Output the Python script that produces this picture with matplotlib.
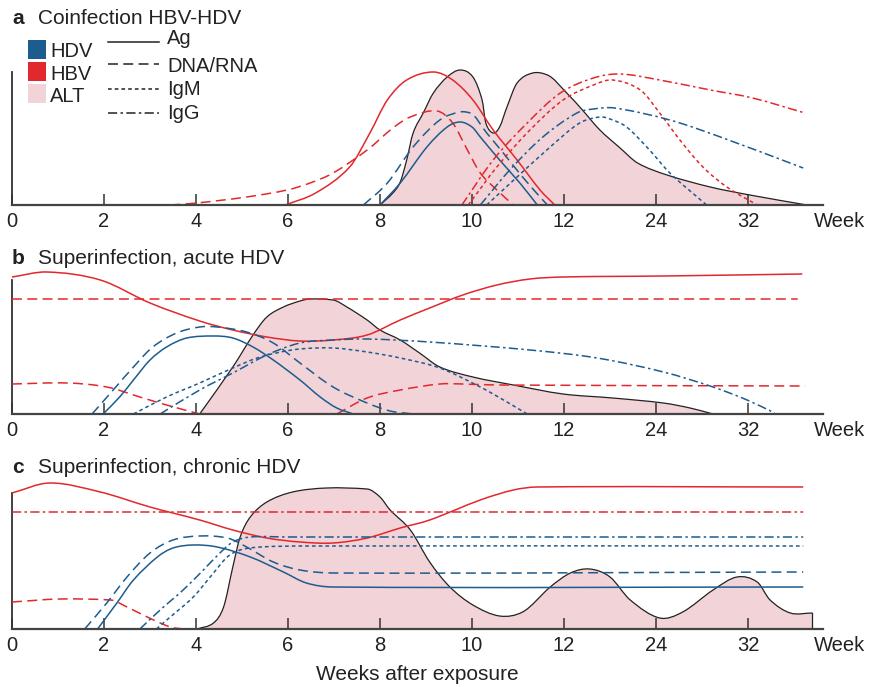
import numpy as np
import matplotlib
matplotlib.use("Agg")
import matplotlib.pyplot as plt
from matplotlib.path import Path
from matplotlib.patches import PathPatch, Rectangle
from matplotlib.lines import Line2D

plt.rcParams['font.family'] = ['Liberation Sans', 'DejaVu Sans']

# ---------------- data (x: tick-slot units, y: relative level) ----------------
tick_labels = ['0', '2', '4', '6', '8', '10', '12', '24', '32']
panel_titles = ['Coinfection HBV-HDV', 'Superinfection, acute HDV', 'Superinfection, chronic HDV']
panel_letters = ['a', 'b', 'c']

# Panel a
a_alt_x = [4.0, 4.14, 4.22, 4.29, 4.36, 4.47, 4.58, 4.73, 4.87, 5.01, 5.11, 5.15, 5.23, 5.30, 5.38, 5.49, 5.66, 5.82, 6.03, 6.2, 6.39, 6.61, 6.8, 7.12, 7.59, 8.02, 8.64]
a_alt_y = [0, 12, 23, 45, 72, 92, 112, 128, 135, 128, 105, 82, 72, 78, 98, 122, 132, 130, 112, 95, 75, 57, 42, 30, 18, 10, 0]
a_hbv_ag_x = [2.97, 3.3, 3.67, 3.89, 4.08, 4.29, 4.58, 4.79, 5.01, 5.23, 5.49, 5.74, 5.9]
a_hbv_ag_y = [0, 12, 38, 72, 105, 125, 133, 125, 105, 75, 45, 15, 0]
a_hbv_dna_x = [1.72, 2.01, 2.55, 2.99, 3.24, 3.49, 3.86, 4.14, 4.33, 4.62, 4.79, 4.95, 5.09, 5.27, 5.45]
a_hbv_dna_y = [0, 2, 8, 15, 22, 32, 55, 77, 88, 94, 82, 55, 32, 15, 0]
a_hdv_ag_x = [4.0, 4.22, 4.51, 4.73, 4.87, 5.0, 5.09, 5.3, 5.52, 5.71]
a_hdv_ag_y = [0, 22, 58, 78, 83, 78, 68, 45, 22, 0]
a_hdv_rna_x = [3.82, 4.08, 4.36, 4.65, 4.87, 4.98, 5.16, 5.34, 5.55, 5.74, 5.82]
a_hdv_rna_y = [0, 22, 58, 85, 93, 92, 72, 52, 28, 8, 0]
a_hbv_igg_x = [4.89, 5.23, 5.6, 5.96, 6.32, 6.61, 7.04, 7.59, 8.05, 8.62]
a_hbv_igg_y = [0, 45, 82, 112, 127, 131, 125, 115, 107, 92]
a_hbv_igm_x = [4.96, 5.27, 5.63, 5.99, 6.32, 6.53, 6.83, 7.04, 7.26, 7.51, 7.77, 8.1]
a_hbv_igm_y = [0, 38, 75, 105, 120, 125, 115, 92, 65, 38, 18, 0]
a_hdv_igg_x = [5.09, 5.41, 5.77, 6.14, 6.32, 6.55, 7.15, 7.7, 8.6]
a_hdv_igg_y = [0, 35, 68, 92, 96, 97, 85, 68, 37]
a_hdv_igm_x = [5.16, 5.49, 5.85, 6.17, 6.39, 6.5, 6.68, 6.93, 7.15, 7.55]
a_hdv_igm_y = [0, 28, 58, 82, 88, 86, 78, 55, 32, 0]

# Panel b
b_alt_x = [2.04, 2.4, 2.62, 2.77, 2.95, 3.13, 3.24, 3.49, 3.64, 3.86, 4.0, 4.22, 4.43, 4.65, 5.01, 5.45, 5.99, 6.53, 7.08, 7.37, 7.62]
b_alt_y = [0, 47, 79, 97, 107, 113, 115, 114, 107, 94, 84, 74, 61, 47, 37, 29, 20, 16, 11, 6, 0]
b_hbv_ag_x = [0, 0.38, 0.96, 1.5, 2.04, 2.4, 2.77, 3.13, 3.49, 3.86, 4.22, 4.54, 4.9, 5.27, 5.63, 5.99, 7.08, 8.59]
b_hbv_ag_y = [137, 142, 134, 111, 93, 84, 77, 73, 74, 79, 94, 106, 119, 129, 135, 137, 138, 140]
b_hbv_dna_x = [0, 8.54]
b_hbv_dna_y = [115, 115]
b_hbv_dec_x = [0, 0.6, 1.03, 1.39, 1.68, 2.04]
b_hbv_dec_y = [30, 31, 27, 17, 9, 0]
b_hbv_rise_x = [3.53, 3.86, 4.22, 4.65, 4.9, 5.27, 8.62]
b_hbv_rise_y = [0, 16, 24, 30, 30, 29, 28]
b_hdv_ag_x = [0.99, 1.17, 1.32, 1.5, 1.68, 1.9, 2.19, 2.4, 2.62, 2.84, 3.13, 3.35, 3.53, 3.71]
b_hdv_ag_y = [0, 17, 34, 54, 67, 76, 78, 76, 67, 54, 34, 17, 6, 0]
b_hdv_rna_x = [0.87, 1.1, 1.32, 1.53, 1.79, 2.04, 2.23, 2.55, 2.84, 3.13, 3.49, 3.86, 4.11, 4.36]
b_hdv_rna_y = [0, 24, 47, 67, 81, 87, 87, 82, 71, 51, 27, 11, 3, 0]
b_hdv_igm_x = [1.32, 1.68, 2.04, 2.4, 2.7, 3.13, 3.49, 3.86, 4.22, 4.65, 5.09, 5.38, 5.6]
b_hdv_igm_y = [0, 17, 31, 46, 57, 65, 66, 62, 56, 46, 27, 12, 0]
b_hdv_igg_x = [1.61, 2.04, 2.4, 2.77, 3.13, 3.49, 3.86, 4.54, 5.63, 6.36, 7.08, 7.62, 7.99, 8.29]
b_hdv_igg_y = [0, 24, 41, 59, 71, 74, 75, 72, 64, 56, 42, 27, 14, 1]

# Panel c
c_alt_x = [2.01, 2.19, 2.3, 2.4, 2.48, 2.59, 2.77, 3.05, 3.42, 3.86, 4.0, 4.11, 4.33, 4.54, 4.76, 5.01, 5.3, 5.55, 5.85, 6.07, 6.28, 6.5, 6.72, 7.04, 7.29, 7.62, 7.88, 8.1, 8.24, 8.46, 8.7]
c_alt_y = [0, 6, 22, 62, 92, 112, 127, 137, 141, 140, 132, 119, 99, 67, 42, 24, 13, 17, 42, 56, 60, 52, 29, 11, 17, 39, 52, 47, 29, 16, 16]
c_hbv_ag_x = [0, 0.41, 0.96, 1.5, 2.04, 2.4, 2.77, 3.13, 3.49, 3.86, 4.22, 4.54, 5.09, 5.45, 5.71, 8.6]
c_hbv_ag_y = [136, 146, 137, 122, 109, 99, 91, 87, 86, 91, 101, 109, 129, 139, 142, 142]
c_hbv_igg_x = [0, 8.6]
c_hbv_igg_y = [117, 117]
c_hbv_dec_x = [0, 0.52, 1.07, 1.25, 1.47, 1.72, 1.86]
c_hbv_dec_y = [27, 30, 29, 22, 12, 2, 0]
c_hdv_ag_x = [0.93, 1.14, 1.32, 1.58, 1.75, 1.97, 2.23, 2.59, 2.95, 3.2, 3.49, 8.6]
c_hdv_ag_y = [0, 26, 49, 72, 81, 84, 82, 72, 57, 46, 42, 42]
c_hdv_rna_x = [0.79, 1.03, 1.25, 1.5, 1.75, 2.04, 2.34, 2.55, 2.84, 3.13, 3.49, 8.6]
c_hdv_rna_y = [0, 26, 52, 76, 89, 93, 91, 82, 67, 59, 56, 57]
c_hdv_igg_x = [1.39, 1.61, 1.86, 2.08, 2.26, 2.4, 2.59, 3.0, 8.6]
c_hdv_igg_y = [0, 19, 39, 59, 76, 87, 92, 92, 92]
c_hdv_igm_x = [1.57, 1.72, 1.97, 2.19, 2.34, 2.48, 2.7, 3.2, 8.6]
c_hdv_igm_y = [0, 12, 32, 56, 72, 79, 82, 83, 83]

# ---------------- styles ----------------
BLUE = '#1d5c8e'
RED = '#e2282d'
PINK = '#f2d3d7'
LW = 1.1
STY = {
    'Ag': '-',
    'DNA': (0, (6.5, 3.5)),
    'IgM': (0, (2.4, 2.0)),
    'IgG': (0, (6.0, 2.2, 1.6, 2.2)),
}

W, H = 871, 687
fig = plt.figure(figsize=(W / 100, H / 100), dpi=100)


def fx(px):
    return px / W


def fy(py):
    return 1 - py / H


def curve_path(xs, ys, close=False):
    """Smooth (cubic Hermite / Bezier) path through the given points."""
    x = np.asarray(xs, float)
    y = np.asarray(ys, float)
    n = len(x)
    h = np.diff(x)
    d = np.diff(y) / h
    m = np.zeros(n)
    m[0] = d[0]
    m[-1] = d[-1]
    for i in range(1, n - 1):
        m[i] = (y[i + 1] - y[i - 1]) / (x[i + 1] - x[i - 1])
        lim = 3 * min(abs(d[i - 1]), abs(d[i]))
        if d[i - 1] * d[i] > 0 and abs(m[i]) > lim:
            m[i] = np.sign(m[i]) * lim
    verts = [(x[0], y[0])]
    codes = [Path.MOVETO]
    for i in range(n - 1):
        verts += [(x[i] + h[i] / 3, y[i] + m[i] * h[i] / 3),
                  (x[i + 1] - h[i] / 3, y[i + 1] - m[i + 1] * h[i] / 3),
                  (x[i + 1], y[i + 1])]
        codes += [Path.CURVE4] * 3
    if close:
        verts += [(x[-1], 0), (x[0], 0), (x[0], y[0])]
        codes += [Path.LINETO, Path.LINETO, Path.CLOSEPOLY]
    return Path(verts, codes)


def draw(ax, xs, ys, color, style):
    ax.add_patch(PathPatch(curve_path(xs, ys), fill=False, edgecolor=color,
                           linewidth=LW, linestyle=STY[style], clip_on=False,
                           capstyle='butt', zorder=3))


def draw_alt(ax, xs, ys, drop=False):
    ax.add_patch(PathPatch(curve_path(xs, ys, close=True), facecolor=PINK,
                           edgecolor='none', zorder=1, clip_on=False))
    ax.add_patch(PathPatch(curve_path(xs, ys), fill=False, edgecolor='#222222',
                           linewidth=0.9, zorder=2, clip_on=False))
    if drop:
        ax.plot([xs[-1], xs[-1]], [ys[-1], 0], color='#222222', lw=0.9, zorder=2)


baselines = [205, 414, 629]
title_base = [24, 264, 473]
axis_tops = [133, 134, 136]
XMAX = 811 / 92
axes = []
for k, base in enumerate(baselines):
    ax = fig.add_axes([fx(12), fy(base), fx(811), 160 / H])
    ax.set_xlim(0, XMAX)
    ax.set_ylim(0, 160)
    ax.patch.set_alpha(0)
    for s in ['top', 'right']:
        ax.spines[s].set_visible(False)
    ax.spines['left'].set_bounds(0, axis_tops[k])
    ax.spines['left'].set_color('#333333')
    ax.spines['left'].set_linewidth(1.3)
    ax.spines['bottom'].set_color('#444444')
    ax.spines['bottom'].set_linewidth(1.6)
    ax.spines['bottom'].set_zorder(5)
    ax.set_yticks([])
    ax.set_xticks(range(len(tick_labels)))
    ax.set_xticklabels(tick_labels, fontsize=14.5, color='#222222')
    ax.tick_params(axis='x', direction='in', length=8, width=1.1, color='#333333', pad=5)
    ax.text(8.72, -7, 'Week', fontsize=14.5, color='#222222', va='top', ha='left')
    fig.text(fx(12), fy(title_base[k]), panel_letters[k],
             fontsize=15, fontweight='bold', va='baseline', ha='left', color='#222222')
    fig.text(fx(38), fy(title_base[k]), panel_titles[k], fontsize=15,
             va='baseline', ha='left', color='#222222')
    axes.append(ax)

# Panel a
ax = axes[0]
draw_alt(ax, a_alt_x, a_alt_y)
draw(ax, a_hbv_dna_x, a_hbv_dna_y, RED, 'DNA')
draw(ax, a_hbv_ag_x, a_hbv_ag_y, RED, 'Ag')
draw(ax, a_hdv_rna_x, a_hdv_rna_y, BLUE, 'DNA')
draw(ax, a_hdv_ag_x, a_hdv_ag_y, BLUE, 'Ag')
draw(ax, a_hbv_igg_x, a_hbv_igg_y, RED, 'IgG')
draw(ax, a_hbv_igm_x, a_hbv_igm_y, RED, 'IgM')
draw(ax, a_hdv_igg_x, a_hdv_igg_y, BLUE, 'IgG')
draw(ax, a_hdv_igm_x, a_hdv_igm_y, BLUE, 'IgM')

# Panel b
ax = axes[1]
draw_alt(ax, b_alt_x, b_alt_y)
draw(ax, b_hbv_ag_x, b_hbv_ag_y, RED, 'Ag')
draw(ax, b_hbv_dna_x, b_hbv_dna_y, RED, 'DNA')
draw(ax, b_hbv_dec_x, b_hbv_dec_y, RED, 'DNA')
draw(ax, b_hbv_rise_x, b_hbv_rise_y, RED, 'DNA')
draw(ax, b_hdv_ag_x, b_hdv_ag_y, BLUE, 'Ag')
draw(ax, b_hdv_rna_x, b_hdv_rna_y, BLUE, 'DNA')
draw(ax, b_hdv_igm_x, b_hdv_igm_y, BLUE, 'IgM')
draw(ax, b_hdv_igg_x, b_hdv_igg_y, BLUE, 'IgG')

# Panel c
ax = axes[2]
draw_alt(ax, c_alt_x, c_alt_y, drop=True)
draw(ax, c_hbv_ag_x, c_hbv_ag_y, RED, 'Ag')
draw(ax, c_hbv_igg_x, c_hbv_igg_y, RED, 'IgG')
draw(ax, c_hbv_dec_x, c_hbv_dec_y, RED, 'DNA')
draw(ax, c_hdv_ag_x, c_hdv_ag_y, BLUE, 'Ag')
draw(ax, c_hdv_rna_x, c_hdv_rna_y, BLUE, 'DNA')
draw(ax, c_hdv_igg_x, c_hdv_igg_y, BLUE, 'IgG')
draw(ax, c_hdv_igm_x, c_hdv_igm_y, BLUE, 'IgM')

fig.text(fx(417), fy(680), 'Weeks after exposure', fontsize=15, ha='center',
         va='baseline', color='#222222')

# Legend (panel a)
legend_names = ['HDV', 'HBV', 'ALT']
legend_colors = [BLUE, RED, PINK]
sq_tops = [40, 62, 84]
txt_base = [57, 80, 102]
for name, col, top, tb in zip(legend_names, legend_colors, sq_tops, txt_base):
    fig.add_artist(Rectangle((fx(28), fy(top + 19)), 18 / W, 19 / H, facecolor=col,
                             edgecolor='none', transform=fig.transFigure))
    fig.text(fx(50), fy(tb), name, fontsize=14.5, va='baseline', ha='left', color='#222222')

line_names = ['Ag', 'DNA/RNA', 'IgM', 'IgG']
line_keys = ['Ag', 'DNA', 'IgM', 'IgG']
line_ys = [42, 64, 89, 113]
line_txt_base = [44, 72, 95, 119]
for name, key, ly, tb in zip(line_names, line_keys, line_ys, line_txt_base):
    fig.add_artist(Line2D([fx(108), fx(159)], [fy(ly), fy(ly)], color='#222222',
                          lw=LW, linestyle=STY[key], transform=fig.transFigure))
    fig.text(fx(167), fy(tb), name, fontsize=14.5, va='baseline', ha='left', color='#222222')

fig.savefig('out.png', dpi=100)
